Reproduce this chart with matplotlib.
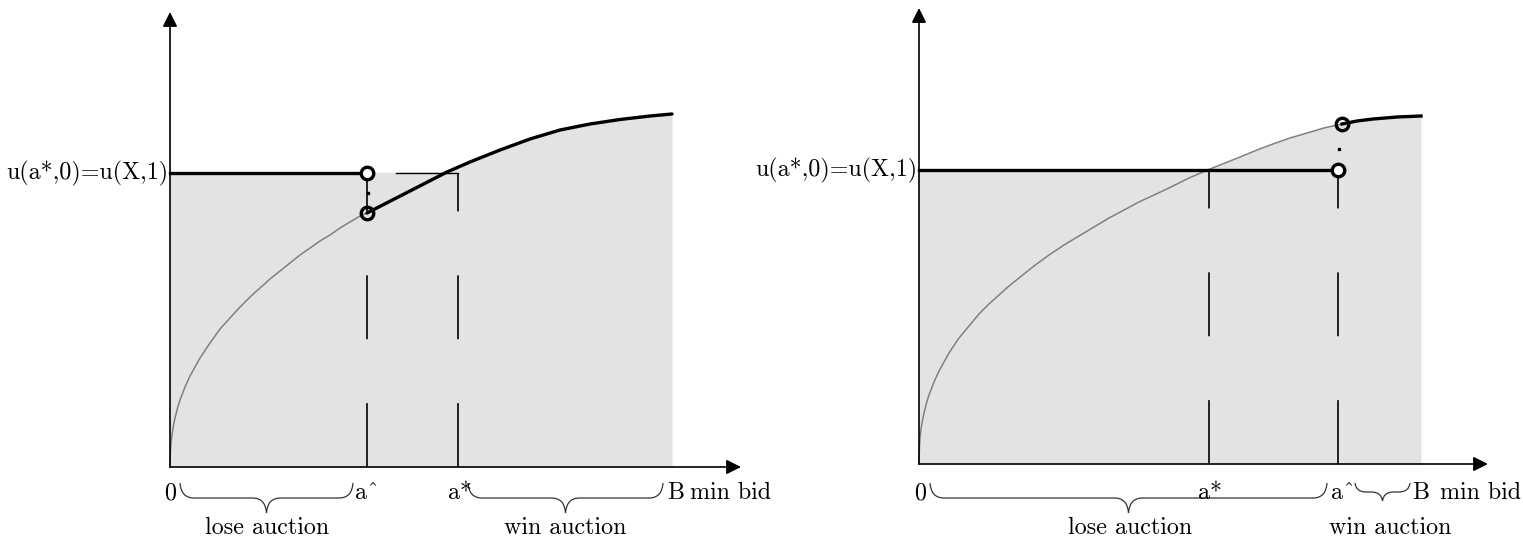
import numpy as np
import matplotlib.pyplot as plt
from matplotlib.path import Path
from matplotlib.patches import PathPatch

plt.rcParams['lines.scale_dashes'] = False

# units: pixels measured from each panel's origin
u_level = 294

# left panel
L_curve_x = [0, 0.5, 1, 2, 3.5, 5, 7.5, 10, 15, 20, 30, 40, 50, 60, 70, 80, 90, 100,
             110, 120, 130, 140, 150, 160, 170, 180, 190, 197]
L_curve_y = [0, 17, 24, 32, 42, 49, 59, 67, 80, 91, 109, 124, 138, 149, 160, 170, 179, 188,
             196, 204, 212, 219, 226, 232, 239, 245, 251, 254]
L_jump_x = [197, 240, 277, 300, 330, 360, 390, 420, 450, 480, 502]
L_jump_y = [254, 276, 295, 305, 317, 328, 337, 343, 347.5, 351, 353]
L_ahat, L_astar, L_B = 197, 288, 502

# right panel
R_curve_x = [0, 0.5, 1, 2, 3.5, 5, 7.5, 10, 15, 20, 30, 40, 50, 60, 70, 80, 90, 100, 115, 130,
             145, 160, 175, 190, 205, 220, 235, 250, 270, 291, 306, 321, 338, 354, 371, 388, 405, 423]
R_curve_y = [0, 19, 26, 35, 44, 51, 61, 69, 82, 93, 111, 126, 138, 150, 160, 169, 178, 186, 198, 209,
             219, 228, 237, 246, 254, 262, 269, 276, 286, 295, 301, 307, 314, 320, 326, 331, 336, 340]
R_top_x = [423, 438, 454, 466, 478, 490, 502]
R_top_y = [340, 343, 345, 346, 347, 347.5, 348]
R_astar, R_ahat, R_B = 290, 419, 502

FS = 17.3
FONT = 'cmr10'
GREY_FILL = '#e3e3e3'


def brace(ax, x0, x1, top, amp):
    xm = (x0 + x1) / 2
    flat = top - amp * 0.5
    tip = top - amp
    r = min(14, (x1 - x0) / 5)
    verts = [(x0, top), (x0 + 1, flat), (x0 + r, flat),
             (xm - r, flat), (xm - 1, flat), (xm, tip),
             (xm + 1, flat), (xm + r, flat),
             (x1 - r, flat), (x1 - 1, flat), (x1, top)]
    codes = [Path.MOVETO, Path.CURVE3, Path.CURVE3, Path.LINETO,
             Path.CURVE3, Path.CURVE3, Path.CURVE3, Path.CURVE3,
             Path.LINETO, Path.CURVE3, Path.CURVE3]
    ax.add_patch(PathPatch(Path(verts, codes), fc='none', ec='#333333', lw=0.9))


def axes_arrows(ax, xtip, ytip):
    kw = dict(arrowstyle='-|>', color='k', lw=1.2, mutation_scale=22,
              shrinkA=0, shrinkB=0)
    ax.annotate('', xy=(0, ytip), xytext=(0, 0), arrowprops=kw)
    ax.annotate('', xy=(xtip, 0), xytext=(0, 0), arrowprops=kw)


def txt(ax, x, y, s, ha='center'):
    ax.text(x, y, s, ha=ha, va='center', fontsize=FS, family=FONT)


def circle(ax, x, y, face):
    ax.plot([x], [y], 'o', ms=9, mfc=face, mec='k', mew=2.4, zorder=4)


fig = plt.figure(figsize=(15.23, 5.39), dpi=100)
axL = fig.add_axes([0, 0, 1, 1])
axL.set_xlim(-170, 1523 - 170)
axL.set_ylim(-(539 - 467), 467)
axR = fig.add_axes([0, 0, 1, 1])
axR.set_xlim(-919, 1523 - 919)
axR.set_ylim(-(539 - 464), 464)
for ax in (axL, axR):
    ax.axis('off')
    ax.patch.set_alpha(0)

# ---------- left panel ----------
ax = axL
cross = 2  # index in L_jump where the jump line meets u_level
fx = [0] + L_jump_x[cross:]
fy = [u_level] + L_jump_y[cross:]
ax.fill_between(fx, 0, fy, color=GREY_FILL, lw=0, zorder=0)
ax.fill_between([0, L_jump_x[cross]], 0, u_level, color=GREY_FILL, lw=0, zorder=0)
ax.plot(L_curve_x, L_curve_y, color='#808080', lw=1.1, zorder=2)
ax.plot(L_jump_x, L_jump_y, color='k', lw=2.4, zorder=3, solid_capstyle='round')
ax.plot([0, L_ahat], [u_level, u_level], color='k', lw=2.4, zorder=3)
ax.plot([226, L_astar], [u_level, u_level], color='k', lw=1.0, zorder=3)
for x in (L_ahat, L_astar):
    ax.plot([x, x], [0, u_level], color='k', lw=1.2, dashes=(46, 46), zorder=2)
circle(ax, L_ahat, u_level, 'white')
circle(ax, L_ahat, L_curve_y[-1], 'none')
ax.plot([L_ahat + 1], [274], 's', ms=1.5, color='k', zorder=4)
axes_arrows(ax, 571, 455)

txt(ax, -2, u_level, 'u(a*,0)=u(X,1)', ha='right')
txt(ax, 0, -26, '0')
txt(ax, 185, -26, 'a^', ha='left')
txt(ax, 278, -26, 'a*', ha='left')
txt(ax, L_B - 5, -26, 'B', ha='left')
txt(ax, 520, -26, 'min bid', ha='left')
brace(ax, 10, 183, -16, 30)
brace(ax, 298, 493, -16, 30)
txt(ax, 97, -61, 'lose auction')
txt(ax, 395, -61, 'win auction')

# ---------- right panel ----------
ax = axR
cross = R_curve_x.index(291)
fx = [0] + R_curve_x[cross:] + R_top_x[1:]
fy = [u_level] + R_curve_y[cross:] + R_top_y[1:]
ax.fill_between(fx, 0, fy, color=GREY_FILL, lw=0, zorder=0)
ax.fill_between([0, R_curve_x[cross]], 0, u_level, color=GREY_FILL, lw=0, zorder=0)
ax.plot(R_curve_x, R_curve_y, color='#808080', lw=1.1, zorder=2)
ax.plot(R_top_x, R_top_y, color='k', lw=2.4, zorder=3)
ax.plot([0, R_ahat], [u_level, u_level], color='k', lw=2.4, zorder=3)
for x in (R_astar, R_ahat):
    ax.plot([x, x], [0, u_level], color='k', lw=1.2, dashes=(46, 46), zorder=2)
circle(ax, R_ahat, u_level, 'white')
circle(ax, R_top_x[0], R_top_y[0], 'none')
ax.plot([420], [315], 's', ms=1.5, color='k', zorder=4)
axes_arrows(ax, 569, 456)

txt(ax, -2, u_level, 'u(a*,0)=u(X,1)', ha='right')
txt(ax, 1, -29, '0')
txt(ax, 291, -29, 'a*')
txt(ax, 412, -29, 'a^', ha='left')
txt(ax, 493, -29, 'B', ha='left')
txt(ax, 521, -29, 'min bid', ha='left')
brace(ax, 11, 408, -19, 30)
brace(ax, 436, 491, -19, 18)
txt(ax, 211, -64, 'lose auction')
txt(ax, 471, -64, 'win auction')

fig.savefig('out.png', dpi=100)
